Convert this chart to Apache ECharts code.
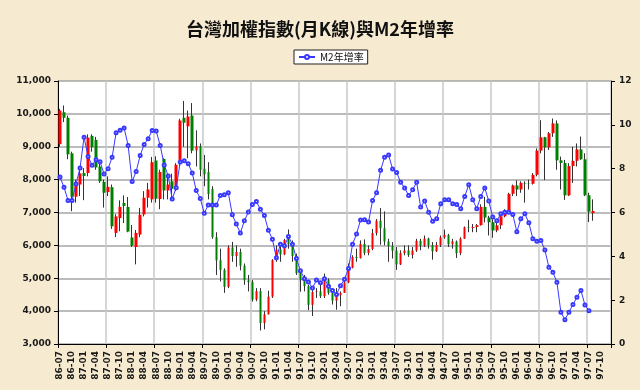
<!DOCTYPE html>
<html><head><meta charset="utf-8">
<script src="https://cdn.jsdelivr.net/npm/echarts@6/dist/echarts.min.js"></script>
<style>html,body{margin:0;padding:0;background:#F6EAD0;}#c{width:640px;height:390px;}</style>
</head><body><div id="c"></div>
<script>
// categories: monthly from 86-07 to 97-12 (ROC calendar)
var startYear = 86, startMonth = 7, monthCount = 138;
var months = [];
for (var k = 0; k < monthCount; k++) {
  var m = startMonth - 1 + k;
  var y = startYear + Math.floor(m / 12);
  var mm = (m % 12) + 1;
  months.push(y + '-' + (mm < 10 ? '0' + mm : mm));
}
var opens = [9080,10050,9880,8800,7480,7850,8200,8200,9330,9210,
8400,7930,7620,7770,6380,6830,7290,7170,6240,5950,
6330,6940,7450,7400,8580,7410,8630,7670,7950,7770,
8600,9880,9620,9950,8890,9010,8330,8230,7720,6250,
5544,5256,4739,5936,5674,5797,5381,4936,4883,4352,
4608,3636,3903,4441,5551,5872,5724,6167,6033,5675,
5153,4940,4764,4191,4580,4600,4452,4941,4555,4321,
4480,4555,4872,5318,5650,5611,6046,5771,5890,6375,
6750,6522,6117,5978,5839,5420,5765,5845,5706,5844,
6140,5994,6207,6006,5819,6012,6242,6312,6033,6119,
5764,6204,6548,6532,6561,6614,7171,6846,6704,6455,
6611,6884,7021,7567,7823,7699,7902,7884,7875,8145,
8883,9287,8982,9411,9711,8586,8506,7521,8412,8572,
8920,8619,7524,6980];
var closes = [10100,9880,8770,7480,7850,8190,8110,9280,8990,8370,
7950,7600,7780,6580,6880,7170,7200,6420,5990,6380,
6930,7450,7700,8530,7420,8230,7670,7850,7720,8450,
9800,9730,9920,8880,9010,8300,8160,7560,6250,5544,
5256,4739,5936,5674,5797,5381,4936,4883,4352,4608,
3636,3903,4441,5551,5872,5724,6167,6033,5675,5153,
4940,4764,4191,4580,4600,4452,4941,4555,4321,4480,
4555,4872,5318,5650,5611,6046,5771,5890,6375,6750,
6522,6117,5978,5839,5420,5765,5845,5706,5844,6140,
5994,6207,6006,5819,6012,6242,6312,6033,6119,5764,
6204,6548,6532,6561,6614,7171,6846,6704,6455,6611,
6884,7021,7567,7823,7699,7902,7884,7875,8145,8883,
9287,8982,9411,9711,8586,8506,7521,8412,8572,8920,
8619,7524,7024,7046];
var lows = [9000,9750,8620,7040,7300,7500,7375,8100,8850,8300,
7900,7150,7500,6500,6250,6430,6680,6400,5950,5422,
6250,6880,7150,7300,7300,7100,7400,7400,7350,7650,
8400,9000,8650,8800,8400,8100,7800,7400,6200,5100,
4900,4555,4700,5500,5350,5240,4800,4600,4290,4300,
3411,3446,3900,4400,5500,5500,5700,5900,5500,5100,
4590,4600,4030,3850,4400,4400,4400,4500,4200,4044,
4150,4550,4850,5300,5500,5600,5700,5700,5850,6300,
6020,6000,5500,5600,5255,5400,5700,5650,5600,5800,
5850,5950,5900,5565,5800,5950,6200,5950,5900,5618,
5700,6200,6400,6400,6400,6600,6700,6300,6232,6400,
6500,6850,6950,7500,7500,7600,7300,7700,7850,8100,
8800,7987,8900,9300,8300,7700,7384,7500,7900,8400,
8600,7500,6708,6750];
var highs = [10150,10256,9950,8850,8000,8300,8350,9378,9380,9300,
8500,8000,8100,7850,6950,7370,7520,7470,6620,6470,
7140,7650,7900,8690,8710,8300,8650,8100,8180,8500,
9850,10393,10100,10328,9500,9100,8750,8530,7800,6400,
5900,5300,6000,6104,6000,5900,5450,5100,4950,4700,
4700,4000,4620,5580,6000,5972,6200,6484,6150,5750,
5270,5100,4800,4650,4700,4810,5141,5000,4700,4700,
4600,5000,5450,5700,5900,6150,6182,6000,6500,6800,
7135,7034,6200,6100,5950,5850,6000,6000,5950,6200,
6200,6300,6236,6100,6100,6300,6481,6350,6200,6150,
6250,6575,6778,6650,6650,7250,7476,6900,6800,6700,
6900,7100,7600,7850,7980,7950,7950,8000,8200,8950,
9807,9300,9450,9859,9800,8700,8600,8500,9000,9100,
9309,8800,7600,7400];
var m2Growth = [7.62,7.15,6.55,6.55,7.3,8.03,9.43,8.56,8.16,8.41,
8.31,7.76,8.0,8.52,9.64,9.75,9.85,9.06,7.41,7.87,
8.6,9.1,9.37,9.74,9.72,9.06,8.17,7.67,6.62,7.13,
8.3,8.36,8.23,7.8,7.0,6.64,5.97,6.34,6.34,6.34,
6.78,6.81,6.9,5.9,5.47,5.06,5.62,6.02,6.37,6.5,
6.15,5.86,5.19,4.78,3.93,4.55,4.48,4.9,4.55,3.9,
3.34,2.98,2.83,2.55,2.92,2.8,2.98,2.63,2.44,2.26,
2.66,2.95,3.45,4.55,5.02,5.66,5.67,5.57,6.55,6.9,
7.93,8.52,8.62,7.98,7.83,7.38,7.12,6.78,7.04,7.38,
6.25,6.52,6.01,5.6,5.71,6.4,6.58,6.58,6.4,6.37,
6.17,6.73,7.27,6.58,6.17,6.73,7.12,6.52,5.79,5.62,
5.94,6.01,6.01,5.91,5.12,5.71,5.94,5.53,4.8,4.69,
4.72,4.29,3.5,3.27,2.82,1.45,1.11,1.45,1.8,2.13,
2.44,1.78,1.52];
var leftTicks = {min: 3000, max: 11000, step: 1000};
var rightTicks = {min: 0, max: 12, step: 2};

var wickData = [], bodyData = [];
for (var i = 0; i < opens.length; i++) {
  wickData.push([opens[i], closes[i], lows[i], highs[i]]);
  bodyData.push([opens[i], closes[i], Math.min(opens[i], closes[i]), Math.max(opens[i], closes[i])]);
}
var lab = {fontFamily: 'DejaVu Sans', fontWeight: 'bold', fontSize: 9, color: '#1a1a1a'};
var chart = echarts.init(document.getElementById('c'), null, {renderer: 'canvas'});
chart.setOption({
  animation: false,
  backgroundColor: '#F6EAD0',
  title: {text: '台灣加權指數(月K線)與M2年增率', left: 'center', top: 15,
    textStyle: {fontFamily: 'Noto Sans CJK TC', fontSize: 18, fontWeight: 'bold', color: '#111'}},
  legend: {data: ['M2年增率'], left: 294, top: 50, backgroundColor: '#fff', borderColor: '#222', borderWidth: 1,
    padding: [2, 4], itemWidth: 16, itemHeight: 5, itemGap: 4,
    textStyle: {fontFamily: 'Noto Sans CJK TC', fontSize: 10, color: '#111'}},
  grid: {left: 58, right: 29, top: 81, bottom: 46, show: true, backgroundColor: '#ffffff', borderWidth: 0},
  xAxis: {type: 'category', data: months, boundaryGap: true,
    axisLine: {lineStyle: {color: '#000', width: 1}},
    axisTick: {show: true, interval: 11, length: 4, lineStyle: {color: '#000'}},
    axisLabel: Object.assign({interval: 2, rotate: 90, margin: 7}, lab),
    splitLine: {show: true, interval: 11, lineStyle: {color: '#c8c8c8', width: 1.5}}},
  yAxis: [
    {type: 'value', min: leftTicks.min, max: leftTicks.max, interval: leftTicks.step, position: 'left',
     axisLine: {show: true, lineStyle: {color: '#000'}},
     axisTick: {show: true, length: 4, lineStyle: {color: '#000'}},
     axisLabel: Object.assign({margin: 7, formatter: function (v) { return v.toString().replace(/\B(?=(\d{3})+(?!\d))/g, ','); }}, lab),
     splitLine: {show: true, lineStyle: {color: '#a6a6a6', width: 1.5}}},
    {type: 'value', min: rightTicks.min, max: rightTicks.max, interval: rightTicks.step, position: 'right',
     axisLine: {show: true, lineStyle: {color: '#000'}},
     axisTick: {show: true, length: 4, lineStyle: {color: '#000'}},
     axisLabel: Object.assign({margin: 8}, lab),
     splitLine: {show: false}}
  ],
  series: [
    {name: 'wick', type: 'candlestick', data: wickData, barWidth: 1, z: 2,
     itemStyle: {color: '#333', color0: '#333', borderColor: '#333', borderColor0: '#333', borderWidth: 1}},
    {name: 'body', type: 'candlestick', data: bodyData, barWidth: 3, z: 3,
     itemStyle: {color: '#ff0000', color0: '#008000', borderColor: '#ff0000', borderColor0: '#008000', borderWidth: 0}},
    {name: 'M2年增率', type: 'line', yAxisIndex: 1, data: m2Growth, z: 4,
     symbol: 'emptyCircle', symbolSize: 3, showAllSymbol: true,
     lineStyle: {color: '#3838ff', width: 1}, itemStyle: {color: '#3838ff', borderWidth: 1}}
  ]
});
</script></body></html>
